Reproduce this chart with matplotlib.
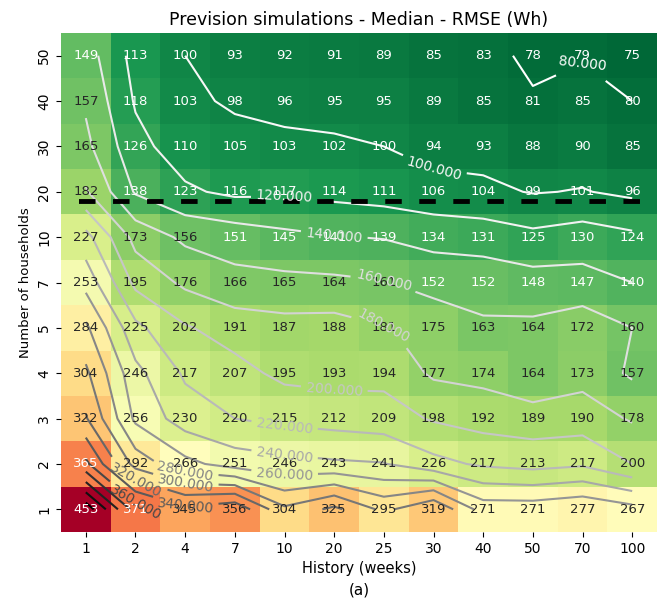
import numpy as np
import matplotlib
matplotlib.use("Agg")
import matplotlib.pyplot as plt
import seaborn as sns
import pandas as pd

history = ["1", "2", "4", "7", "10", "20", "25", "30", "40", "50", "70", "100"]
households = ["50", "40", "30", "20", "10", "7", "5", "4", "3", "2", "1"]

row_50 = [149, 113, 100, 93, 92, 91, 89, 85, 83, 78, 79, 75]
row_40 = [157, 118, 103, 98, 96, 95, 95, 89, 85, 81, 85, 80]
row_30 = [165, 126, 110, 105, 103, 102, 100, 94, 93, 88, 90, 85]
row_20 = [182, 138, 123, 116, 117, 114, 111, 106, 104, 99, 101, 96]
row_10 = [227, 173, 156, 151, 145, 141, 139, 134, 131, 125, 130, 124]
row_7 = [253, 195, 176, 166, 165, 164, 161, 152, 152, 148, 147, 140]
row_5 = [284, 225, 202, 191, 187, 188, 181, 175, 163, 164, 172, 160]
row_4 = [304, 246, 217, 207, 195, 193, 194, 177, 174, 164, 173, 157]
row_3 = [322, 256, 230, 220, 215, 212, 209, 198, 192, 189, 190, 178]
row_2 = [365, 292, 266, 251, 246, 243, 241, 226, 217, 213, 217, 200]
row_1 = [453, 371, 345, 356, 304, 325, 295, 319, 271, 271, 277, 267]

contour_levels = list(range(80, 460, 20))

Z = np.array([row_50, row_40, row_30, row_20, row_10, row_7, row_5,
              row_4, row_3, row_2, row_1])
df = pd.DataFrame(Z, index=households, columns=history)

fig = plt.figure(figsize=(6.6, 6.06), dpi=100)
ax = fig.add_axes([0.0924, 0.1221, 0.9031, 0.8234])
sns.heatmap(df, ax=ax, cmap="RdYlGn_r", annot=True, fmt="d", cbar=False,
            annot_kws={"fontsize": 9.5})

xc = np.arange(len(history)) + 0.5
yc = np.arange(len(households)) + 0.5
cs = ax.contour(xc, yc, Z, levels=contour_levels, cmap="Greys", linewidths=1.5)
ax.clabel(cs, fmt="%.3f", fontsize=10, inline=True)

ax.axhline(3.7, color="black", linewidth=3.5, linestyle=(3.4, (3.4, 3.6)))

ax.set_title("Prevision simulations - Median - RMSE (Wh)", fontsize=12.5)
ax.set_xlabel("History (weeks)", fontsize=10.5)
ax.set_ylabel("Number of households", fontsize=9.5)
ax.tick_params(axis="both", labelsize=10)
plt.setp(ax.get_yticklabels(), rotation=90, va="center")
plt.setp(ax.get_xticklabels(), rotation=0)
fig.text(0.544, 1 - 590 / 606, "(a)", ha="center", va="center", fontsize=11)

fig.savefig("out.png", dpi=100)
